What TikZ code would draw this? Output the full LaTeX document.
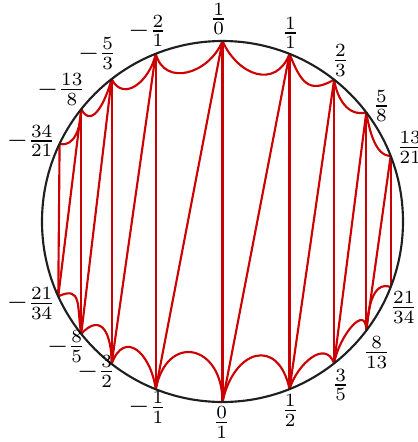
\documentclass[tikz,border=0pt]{standalone}
\definecolor{farey}{RGB}{204,0,0}
% #1,#2 point names, #3 out angle, #4 in angle, #5 control distance (px)
\newcommand\farc[5]{%
  \draw[geod] (#1) to[out=#3,in=#4,distance=#5*0.3759pt] (#2);%
}
\begin{document}
\begin{tikzpicture}[x=0.3759pt,y=0.3759pt,
  geod/.style={draw=farey, thick},
  chord/.style={draw=farey, thick},
  rim/.style={draw=black!88, thick},
  lab/.style={inner sep=0pt}]
\useasboundingbox (-222.5,-220.5) rectangle (195.5,221.5);
% points on the circle
\coordinate (inf)   at (90:180.5);
\coordinate (p11)   at (68.2:180.5);
\coordinate (p23)   at (51.8:180.5);
\coordinate (p58)   at (37.2:180.5);
\coordinate (p1321) at (21.3:180.5);
\coordinate (p2134) at (338.7:180.5);
\coordinate (p813)  at (322.8:180.5);
\coordinate (p35)   at (308.2:180.5);
\coordinate (p12)   at (291.8:180.5);
\coordinate (zero)  at (270:180.5);
\coordinate (m21)   at (111.7:180.5);
\coordinate (m53)   at (127.9:180.5);
\coordinate (m138)  at (141.5:180.5);
\coordinate (m3421) at (154.5:180.5);
\coordinate (m2134) at (204.5:180.5);
\coordinate (m85)   at (218.5:180.5);
\coordinate (m32)   at (232.1:180.5);
\coordinate (m11)   at (248.3:180.5);
% arcs between neighbours (upper row)
\farc{m3421}{m138}{-15}{-90}{16}
\farc{m138}{m53}{-62}{-105}{23}
\farc{m53}{m21}{-63}{-102}{27}
\farc{m21}{inf}{-75}{-112}{35}
\farc{inf}{p11}{-66}{-111}{38}
\farc{p11}{p23}{-68}{-150}{30}
\farc{p23}{p58}{-81}{-166}{19}
\farc{p58}{p1321}{-80}{180}{16}
% arcs between neighbours (lower row)
\farc{m2134}{m85}{25}{100}{27}
\farc{m85}{m32}{47}{90}{30}
\farc{m32}{m11}{70}{98}{37}
\farc{m11}{zero}{79}{90}{58}
\farc{zero}{p12}{78}{102}{54}
\farc{p12}{p35}{73}{110}{26}
\farc{p35}{p813}{80}{90}{28}
\farc{p813}{p2134}{85}{160}{20}
% straight chords
\draw[chord] (inf) -- (zero);
\draw[chord] (inf) -- (m11);
\draw[chord] (zero) -- (p11);
\draw[chord] (p11) -- (p12);
\draw[chord] (p12) -- (p23);
\draw[chord] (p23) -- (p35);
\draw[chord] (p35) -- (p58);
\draw[chord] (p58) -- (p813);
\draw[chord] (p813) -- (p1321);
\draw[chord] (p1321) -- (p2134);
\draw[chord] (m21) -- (m11);
\draw[chord] (m21) -- (m32);
\draw[chord] (m53) -- (m32);
\draw[chord] (m53) -- (m85);
\draw[chord] (m138) -- (m85);
\draw[chord] (m138) -- (m2134);
\draw[chord] (m3421) -- (m2134);
% boundary circle
\draw[rim] (0,0) circle[radius=180.5];
% labels (pixel centre X,Y -> X-222.5, 221.5-Y)
\node[lab] (l10)   at (-3.7,202.5)  {$\frac{1}{0}$};
\node[lab] (l11)   at (68,188.5)    {$\frac{1}{1}$};
\node[lab] (l23)   at (118,161)     {$\frac{2}{3}$};
\node[lab] (l58)   at (159,115.5)   {$\frac{5}{8}$};
\node[lab] (l1321) at (187.7,74)    {$\frac{13}{21}$};
\node[lab] (l2134) at (181.3,-85.8) {$\frac{21}{34}$};
\node[lab] (l813)  at (154.2,-131.2){$\frac{8}{13}$};
\node[lab] (l35)   at (118.2,-163.5){$\frac{3}{5}$};
\node[lab] (l12)   at (67.8,-189.2) {$\frac{1}{2}$};
\node[lab] (l01)   at (-0.8,-201)   {$\frac{0}{1}$};
\node[lab] (lm21)  at (-75,190.5)   {$-\frac{2}{1}$};
\node[lab] (lm53)  at (-125.2,168)  {$-\frac{5}{3}$};
\node[lab] (lm138) at (-161,132)    {$-\frac{13}{8}$};
\node[lab] (lm3421) at (-191.2,80.5){$-\frac{34}{21}$};
\node[lab] (lm2134) at (-191.2,-81.8){$-\frac{21}{34}$};
\node[lab] (lm85)  at (-156.2,-125.2){$-\frac{8}{5}$};
\node[lab] (lm32)  at (-126.2,-150.2){$-\frac{3}{2}$};
\node[lab] (lm11)  at (-75,-185.8)  {$-\frac{1}{1}$};
\end{tikzpicture}
\end{document}
